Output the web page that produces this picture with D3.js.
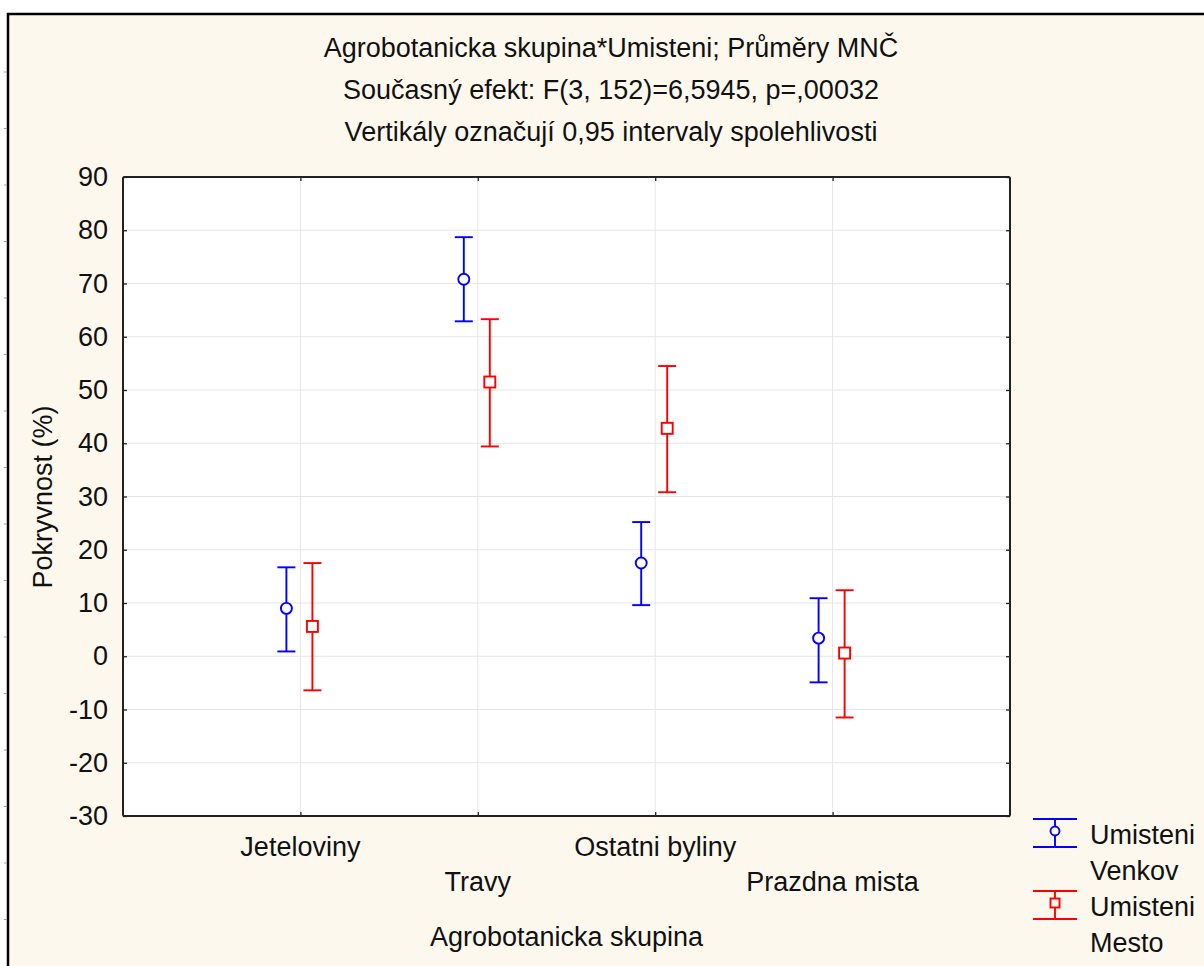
<!DOCTYPE html>
<html>
<head>
<meta charset="utf-8">
<script src="https://cdn.jsdelivr.net/npm/d3@7"></script>
<style>
    body { margin: 0; background: #ffffff; }
    svg text { font-family: "Liberation Sans", Arial, sans-serif; fill: #111; }
</style>
</head>
<body>
<div id="my_dataviz"><svg></svg></div>
<script>
// data
var categories = ["Jeteloviny", "Travy", "Ostatni byliny", "Prazdna mista"];
var seriesNames = ["Umisteni Venkov", "Umisteni Mesto"];
var venkovMean = [9.0, 70.8, 17.5, 3.4];
var venkovLow = [0.9, 62.9, 9.6, -4.9];
var venkovHigh = [16.7, 78.7, 25.2, 10.9];
var mestoMean = [5.6, 51.5, 42.8, 0.6];
var mestoLow = [-6.4, 39.4, 30.8, -11.5];
var mestoHigh = [17.5, 63.3, 54.5, 12.4];
var yTicks = [90, 80, 70, 60, 50, 40, 30, 20, 10, 0, -10, -20, -30];
var titleLines = [
    "Agrobotanicka skupina*Umisteni; Průměry MNČ",
    "Současný efekt: F(3, 152)=6,5945, p=,00032",
    "Vertikály označují 0,95 intervaly spolehlivosti"
];

var W = 1204, H = 966;
var plot = { left: 123, top: 177, right: 1010, bottom: 816 };
var fs = "27px";

var svg = d3.select("#my_dataviz")
    .select("svg")
    .attr("width", W)
    .attr("height", H);

/* outer frame + background */
svg.append("rect")
    .attr("x", 8).attr("y", 14)
    .attr("width", W + 20).attr("height", H + 20)
    .attr("fill", "#fdf8ee")
    .attr("stroke", "#000")
    .attr("stroke-width", 2.5);

// little ruler marks left of the frame
svg.append("g").selectAll("line")
    .data(d3.range(72, H, 56.5))
    .enter()
    .append("line")
    .attr("x1", 4).attr("x2", 7)
    .attr("y1", function (d) { return d; })
    .attr("y2", function (d) { return d; })
    .attr("stroke", "#999")
    .attr("stroke-width", 1);

var xScale = d3.scalePoint()
    .domain(categories)
    .range([plot.left, plot.right])
    .padding(1);

var yScale = d3.scaleLinear()
    .domain([-30, 90])
    .range([plot.bottom, plot.top]);

svg.append("rect")
    .attr("x", plot.left).attr("y", plot.top)
    .attr("width", plot.right - plot.left)
    .attr("height", plot.bottom - plot.top)
    .attr("fill", "#ffffff");

// grid
var grid = svg.append("g");
grid.selectAll(".hgrid")
    .data(yTicks)
    .enter()
    .append("line")
    .attr("x1", plot.left).attr("x2", plot.right)
    .attr("y1", function (d) { return yScale(d); })
    .attr("y2", function (d) { return yScale(d); })
    .attr("stroke", "#e6e6e6");
grid.selectAll(".vgrid")
    .data(categories)
    .enter()
    .append("line")
    .attr("x1", function (d) { return xScale(d); })
    .attr("x2", function (d) { return xScale(d); })
    .attr("y1", plot.top).attr("y2", plot.bottom)
    .attr("stroke", "#e6e6e6");

// axes, ticks pointing inwards
var yAxis = svg.append("g")
    .attr("transform", "translate(" + plot.left + ",0)")
    .call(d3.axisLeft(yScale).tickValues(yTicks).tickSize(-4).tickPadding(15)
        .tickFormat(function (d) { return String(d); }));
var yAxisR = svg.append("g")
    .attr("transform", "translate(" + plot.right + ",0)")
    .call(d3.axisRight(yScale).tickValues(yTicks).tickSize(-4).tickFormat(""));
var xAxis = svg.append("g")
    .attr("transform", "translate(0," + plot.bottom + ")")
    .call(d3.axisBottom(xScale).tickSize(-4).tickFormat(""));
var xAxisT = svg.append("g")
    .attr("transform", "translate(0," + plot.top + ")")
    .call(d3.axisTop(xScale).tickSize(-4).tickFormat(""));

svg.selectAll(".domain").remove();
svg.selectAll(".tick line").attr("stroke", "#222").attr("stroke-width", 1.3);
yAxis.selectAll("text")
    .style("font-size", fs)
    .style("font-family", "Liberation Sans, Arial, sans-serif")
    .attr("fill", "#111");

svg.append("rect")
    .attr("x", plot.left).attr("y", plot.top)
    .attr("width", plot.right - plot.left)
    .attr("height", plot.bottom - plot.top)
    .attr("rx", 1.5)
    .attr("fill", "none")
    .attr("stroke", "#222")
    .attr("stroke-width", 2);

// staggered category labels
svg.append("g").selectAll("text")
    .data(categories)
    .enter()
    .append("text")
    .attr("x", function (d) { return xScale(d); })
    .attr("y", function (d, i) { return plot.bottom + (i % 2 == 0 ? 40 : 75); })
    .attr("text-anchor", "middle")
    .style("font-size", fs)
    .text(function (d) { return d; });

svg.append("text")
    .attr("x", (plot.left + plot.right) / 2)
    .attr("y", 946)
    .attr("text-anchor", "middle")
    .style("font-size", fs)
    .text("Agrobotanicka skupina");

svg.append("text")
    .attr("transform", "translate(52,497) rotate(-90)")
    .attr("text-anchor", "middle")
    .style("font-size", fs)
    .text("Pokryvnost (%)");

svg.append("g").selectAll("text")
    .data(titleLines)
    .enter()
    .append("text")
    .attr("x", 611)
    .attr("y", function (d, i) { return 57 + i * 42; })
    .attr("text-anchor", "middle")
    .style("font-size", fs)
    .text(function (d) { return d; });

/* error bars */
var series = [
    { name: seriesNames[0], mean: venkovMean, low: venkovLow, high: venkovHigh, color: "#0000ff", dx: -14, marker: "circle" },
    { name: seriesNames[1], mean: mestoMean, low: mestoLow, high: mestoHigh, color: "#ff0000", dx: 12, marker: "square" }
];
var cap = 9;

series.forEach(function (s) {
    var g = svg.append("g")
        .attr("stroke", s.color)
        .attr("stroke-width", 1.9)
        .attr("fill", "none");
    var pts = g.selectAll("g")
        .data(categories)
        .enter()
        .append("g")
        .attr("transform", function (d) { return "translate(" + (xScale(d) + s.dx) + ",0)"; });
    pts.append("line")
        .attr("x1", 0).attr("x2", 0)
        .attr("y1", function (d, i) { return yScale(s.low[i]); })
        .attr("y2", function (d, i) { return yScale(s.high[i]); });
    pts.append("line")
        .attr("x1", -cap).attr("x2", cap)
        .attr("y1", function (d, i) { return yScale(s.high[i]); })
        .attr("y2", function (d, i) { return yScale(s.high[i]); });
    pts.append("line")
        .attr("x1", -cap).attr("x2", cap)
        .attr("y1", function (d, i) { return yScale(s.low[i]); })
        .attr("y2", function (d, i) { return yScale(s.low[i]); });
    if (s.marker == "circle") {
        pts.append("circle")
            .attr("cy", function (d, i) { return yScale(s.mean[i]); })
            .attr("r", 5.5)
            .attr("fill", "#fff");
    } else {
        pts.append("rect")
            .attr("x", -5.5)
            .attr("y", function (d, i) { return yScale(s.mean[i]) - 5.5; })
            .attr("width", 11).attr("height", 11)
            .attr("fill", "#fff");
    }
});

// legend
var legendY = [833, 905];
series.forEach(function (s, k) {
    var cy = legendY[k];
    var lg = svg.append("g")
        .attr("stroke", s.color)
        .attr("stroke-width", 1.9)
        .attr("fill", "none");
    lg.append("line").attr("x1", 1033).attr("x2", 1077).attr("y1", cy - 14).attr("y2", cy - 14);
    lg.append("line").attr("x1", 1033).attr("x2", 1077).attr("y1", cy + 14).attr("y2", cy + 14);
    lg.append("line").attr("x1", 1055).attr("x2", 1055).attr("y1", cy - 14).attr("y2", cy + 14);
    if (s.marker == "circle") {
        lg.append("circle").attr("cx", 1055).attr("cy", cy - 2).attr("r", 4.5).attr("fill", "#fdf8ee");
    } else {
        lg.append("rect").attr("x", 1050.5).attr("y", cy - 6.5).attr("width", 9).attr("height", 9).attr("fill", "#fdf8ee");
    }
    var words = s.name.split(" ");
    words.forEach(function (w, j) {
        svg.append("text")
            .attr("x", 1090)
            .attr("y", cy + 11 + j * 36)
            .style("font-size", fs)
            .text(w);
    });
});
</script>
</body>
</html>
